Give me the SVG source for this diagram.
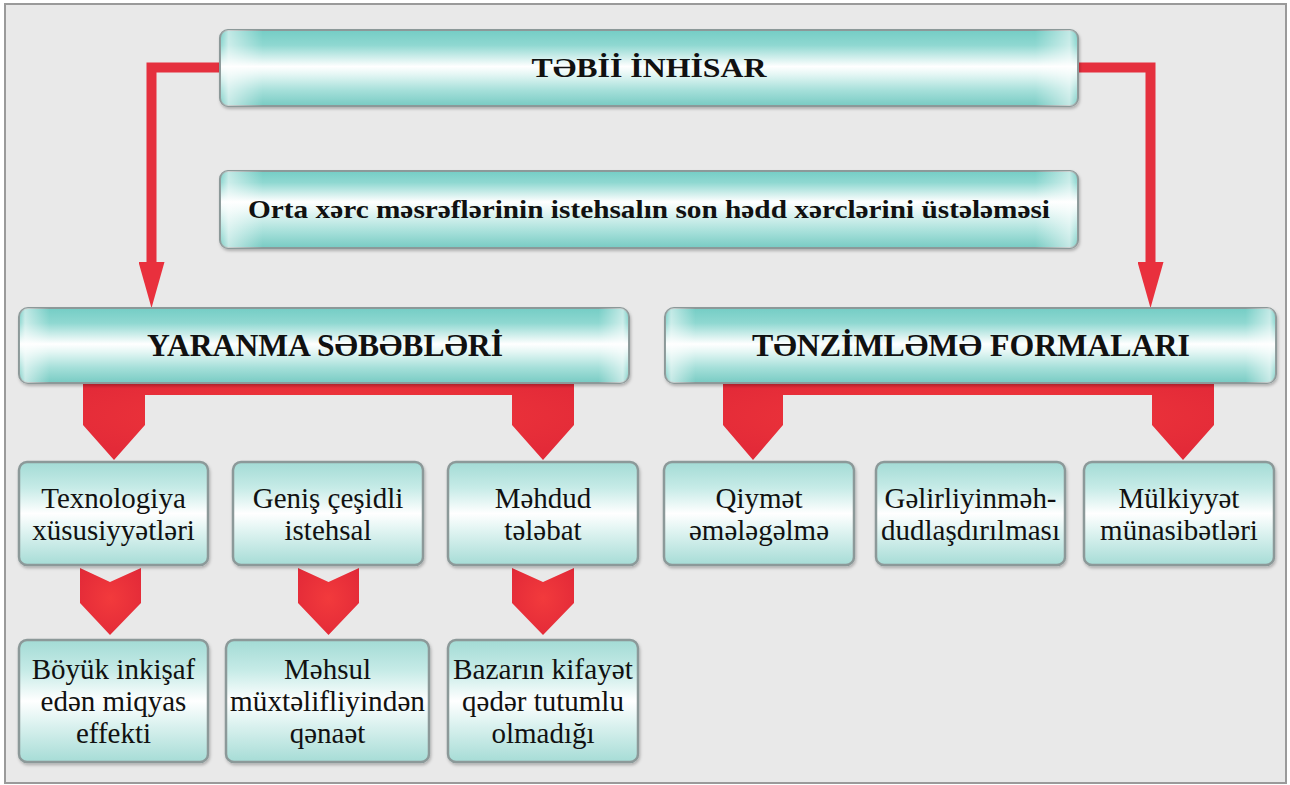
<svg xmlns="http://www.w3.org/2000/svg" width="1290" height="785" viewBox="0 0 1290 785">
<defs>
<linearGradient id="gTop" x1="0" y1="0" x2="0" y2="1">
<stop offset="0" stop-color="#74cdc5"/>
<stop offset="0.2" stop-color="#8fd8d1"/>
<stop offset="0.48" stop-color="#ffffff"/>
<stop offset="0.58" stop-color="#e6f7f5"/>
<stop offset="0.8" stop-color="#a4dfd9"/>
<stop offset="1" stop-color="#78cbc3"/>
</linearGradient>
<linearGradient id="gMid" x1="0" y1="0" x2="0" y2="1">
<stop offset="0" stop-color="#74cdc5"/>
<stop offset="0.15" stop-color="#8fd8d1"/>
<stop offset="0.4" stop-color="#ffffff"/>
<stop offset="0.52" stop-color="#e6f7f5"/>
<stop offset="0.8" stop-color="#a4dfd9"/>
<stop offset="1" stop-color="#78cbc3"/>
</linearGradient>
<linearGradient id="gLow" x1="0" y1="0" x2="0" y2="1">
<stop offset="0" stop-color="#a3dbd5"/>
<stop offset="0.25" stop-color="#c6ebe7"/>
<stop offset="0.5" stop-color="#ffffff"/>
<stop offset="0.65" stop-color="#e3f5f3"/>
<stop offset="1" stop-color="#a6dcd6"/>
</linearGradient>
<linearGradient id="gEdge" x1="0" y1="0" x2="1" y2="0">
<stop offset="0" stop-color="#ffffff" stop-opacity="0"/>
<stop offset="0.01" stop-color="#ffffff" stop-opacity="0.55"/>
<stop offset="0.05" stop-color="#ffffff" stop-opacity="0"/>
<stop offset="0.95" stop-color="#ffffff" stop-opacity="0"/>
<stop offset="0.99" stop-color="#ffffff" stop-opacity="0.55"/>
<stop offset="1" stop-color="#ffffff" stop-opacity="0"/>
</linearGradient>
<radialGradient id="gRed" cx="0.5" cy="0.45" r="0.6">
<stop offset="0" stop-color="#f23a3c"/>
<stop offset="1" stop-color="#e32a38"/>
</radialGradient>
<filter id="sh" x="-5%" y="-10%" width="110%" height="130%">
<feDropShadow dx="1" dy="2" stdDeviation="1.5" flood-color="#000" flood-opacity="0.25"/>
</filter>
<marker id="ah" viewBox="0 0 46 26" refX="8" refY="13" markerWidth="46" markerHeight="26" markerUnits="userSpaceOnUse" orient="auto">
<path d="M0,0 L46,13 L0,26 Z" fill="#e9303d"/>
</marker>
</defs>
<style>
.top{fill:url(#gTop);stroke:#8c9999;stroke-width:2;filter:url(#sh)}
.mid{fill:url(#gMid);stroke:#8c9999;stroke-width:2;filter:url(#sh)}
.low{fill:url(#gLow);stroke:#8c9999;stroke-width:2.5;filter:url(#sh)}
.edge{fill:url(#gEdge);stroke:none}
.b{font-weight:bold;fill:#111;text-anchor:middle}
.r{font-size:29px;fill:#111;text-anchor:middle}
.red{fill:url(#gRed)}
.ln{fill:none;stroke:#e5303e;stroke-width:10}
</style>
<rect x="0" y="0" width="1290" height="785" fill="#ffffff"/>
<rect x="5" y="4" width="1281" height="779" fill="#e9e9e9" stroke="#9a9a9a" stroke-width="2"/>

<g id="connectors">
<path class="ln" d="M222,67.5 H151.5 V270" marker-end="url(#ah)"/>
<path class="ln" d="M1076,67.5 H1150.5 V270" marker-end="url(#ah)"/>
<path class="red" d="M83,380 H574 V425 L543,460 L512,425 V395 H145 V425 L114,460 L83,425 Z"/>
<path class="red" d="M723,380 H1214 V425 L1183,460 L1152,425 V395 H783 V425 L753,460 L723,425 Z"/>
<path class="red" d="M80,568 L110,582 L141,568 V603 L110,635 L80,603 Z"/>
<path class="red" d="M298,568 L328.5,582 L359,568 V603 L328.5,635 L298,603 Z"/>
<path class="red" d="M512,568 L543,582 L574,568 V603 L543,635 L512,603 Z"/>
</g>

<g font-family="'Liberation Serif', 'Times New Roman', 'DejaVu Serif', serif">
<g id="n-tebii">
<rect class="top" x="220" y="30" width="858" height="76" rx="8"/>
<rect class="edge" x="220" y="30" width="858" height="76" rx="8"/>
<text class="b" x="649" y="77" font-size="27" textLength="235" lengthAdjust="spacingAndGlyphs">TƏBİİ İNHİSAR</text>
</g>

<g id="n-orta">
<rect class="mid" x="220" y="171" width="858" height="77" rx="8"/>
<rect class="edge" x="220" y="171" width="858" height="77" rx="8"/>
<text class="b" x="649" y="218" font-size="26" textLength="802" lengthAdjust="spacingAndGlyphs">Orta xərc məsrəflərinin istehsalın son hədd xərclərini üstələməsi</text>
</g>

<g id="n-yaranma">
<rect class="top" x="19" y="308" width="610" height="75" rx="9"/>
<rect class="edge" x="19" y="308" width="610" height="75" rx="9"/>
<text class="b" x="325" y="356" font-size="31" textLength="356" lengthAdjust="spacingAndGlyphs">YARANMA SƏBƏBLƏRİ</text>
</g>

<g id="n-tenzimleme">
<rect class="top" x="665" y="308" width="611" height="75" rx="9"/>
<rect class="edge" x="665" y="308" width="611" height="75" rx="9"/>
<text class="b" x="971" y="356" font-size="31" textLength="438" lengthAdjust="spacingAndGlyphs">TƏNZİMLƏMƏ FORMALARI</text>
</g>

<g id="n-texnologiya">
<rect class="low" x="19" y="462" width="189" height="103" rx="8"/>
<text class="r" x="113.5" y="508">Texnologiya</text>
<text class="r" x="113.5" y="540">xüsusiyyətləri</text>
</g>

<g id="n-genis">
<rect class="low" x="233" y="462" width="190" height="103" rx="8"/>
<text class="r" x="328" y="508">Geniş çeşidli</text>
<text class="r" x="328" y="540">istehsal</text>
</g>

<g id="n-mehdud">
<rect class="low" x="448" y="462" width="190" height="103" rx="8"/>
<text class="r" x="543" y="508">Məhdud</text>
<text class="r" x="543" y="540">tələbat</text>
</g>

<g id="n-qiymet">
<rect class="low" x="664" y="462" width="190" height="103" rx="8"/>
<text class="r" x="759" y="508">Qiymət</text>
<text class="r" x="759" y="540">əmələgəlmə</text>
</g>

<g id="n-gelirliyin">
<rect class="low" x="876" y="462" width="189" height="103" rx="8"/>
<text class="r" x="970.5" y="508" textLength="172" lengthAdjust="spacingAndGlyphs">Gəlirliyinməh-</text>
<text class="r" x="970.5" y="540" textLength="179" lengthAdjust="spacingAndGlyphs">dudlaşdırılması</text>
</g>

<g id="n-mulkiyyet">
<rect class="low" x="1084" y="462" width="190" height="103" rx="8"/>
<text class="r" x="1179" y="508">Mülkiyyət</text>
<text class="r" x="1179" y="540">münasibətləri</text>
</g>

<g id="n-boyuk">
<rect class="low" x="19" y="640" width="189" height="122" rx="8"/>
<text class="r" x="113.5" y="679">Böyük inkişaf</text>
<text class="r" x="113.5" y="711">edən miqyas</text>
<text class="r" x="113.5" y="743">effekti</text>
</g>

<g id="n-mehsul">
<rect class="low" x="226" y="640" width="203" height="122" rx="8"/>
<text class="r" x="327.5" y="679">Məhsul</text>
<text class="r" x="327.5" y="711" textLength="195" lengthAdjust="spacingAndGlyphs">müxtəlifliyindən</text>
<text class="r" x="327.5" y="743">qənaət</text>
</g>

<g id="n-bazarin">
<rect class="low" x="448" y="640" width="190" height="122" rx="8"/>
<text class="r" x="543" y="679" textLength="180" lengthAdjust="spacingAndGlyphs">Bazarın kifayət</text>
<text class="r" x="543" y="711">qədər tutumlu</text>
<text class="r" x="543" y="743">olmadığı</text>
</g>
</g>
</svg>
